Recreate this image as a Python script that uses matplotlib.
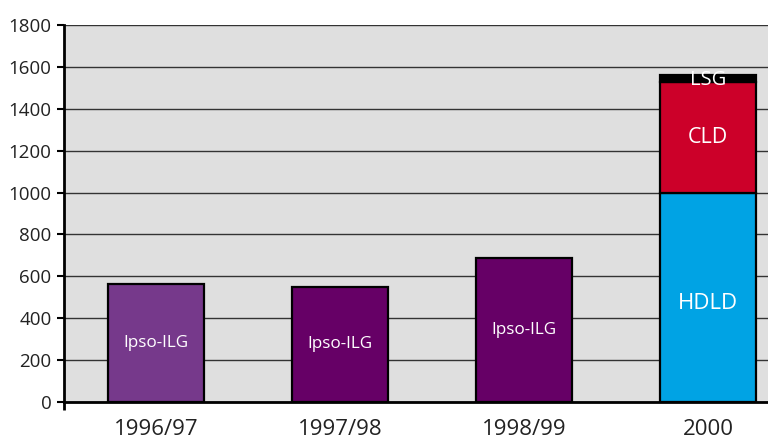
import matplotlib.pyplot as plt

plt.rcParams['font.family'] = ['Open Sans', 'DejaVu Sans']

# data
years = ['1996/97', '1997/98', '1998/99', '2000']
ipso = [563, 549, 688, 0]
hdld = [0, 0, 0, 998]
cld = [0, 0, 0, 530]
lsg = [0, 0, 0, 33]
ipso_colors = ['#76398B', '#660066', '#660066', '#660066']
yticks = [0, 200, 400, 600, 800, 1000, 1200, 1400, 1600, 1800]

fig = plt.figure(figsize=(7.68, 4.43), dpi=100)
ax = fig.add_axes([0.0833, 0.0926, 0.9167, 0.851])
ax.set_facecolor('#DFDFDF')

x = list(range(len(years)))
w = 0.52
edge = dict(edgecolor='black', linewidth=1.6, zorder=3)

# Ipso-ILG bars for the first three years
for i in range(3):
    ax.bar(x[i], ipso[i], w, color=ipso_colors[i], **edge)
    ax.text(x[i], ipso[i] * 0.5, 'Ipso-ILG', color='white', ha='center',
            va='center', fontsize=12.3, zorder=4)

# stacked bar for 2000
ax.bar(x[3], hdld[3], w, color='#00A3E4', **edge)
ax.bar(x[3], cld[3], w, bottom=hdld[3], color='#CC0029', **edge)
ax.bar(x[3], lsg[3], w, bottom=hdld[3] + cld[3], color='black', **edge)
ax.text(x[3], hdld[3] * 0.47, 'HDLD', color='white', ha='center', va='center',
        fontsize=16, zorder=4)
ax.text(x[3], hdld[3] + cld[3] * 0.5, 'CLD', color='white', ha='center',
        va='center', fontsize=15.5, zorder=4)
ax.text(x[3], hdld[3] + cld[3] + lsg[3] * 0.3, 'LSG', color='white',
        ha='center', va='center', fontsize=14.5, zorder=4)

ax.set_xlim(-0.5, 3.326)
ax.set_ylim(0, 1800)
ax.set_yticks(yticks)
ax.set_yticklabels([str(v) for v in yticks], fontsize=13.5, color='#222222')
ax.yaxis.grid(True, color='#333333', linewidth=1.0, zorder=1)
ax.set_axisbelow(True)

ax.set_xticks(x)
ax.set_xticklabels(years, fontsize=16, color='#222222')
ax.set_xticks([-0.5], minor=True)
ax.tick_params(axis='x', which='major', length=0, pad=12)
ax.tick_params(axis='x', which='minor', length=6, width=2)
ax.tick_params(axis='y', length=5, width=1.5, pad=4, direction='out')

for s in ['top', 'right']:
    ax.spines[s].set_visible(False)
for s in ['left', 'bottom']:
    ax.spines[s].set_linewidth(2)
    ax.spines[s].set_zorder(5)

fig.savefig('out.png', dpi=100)
